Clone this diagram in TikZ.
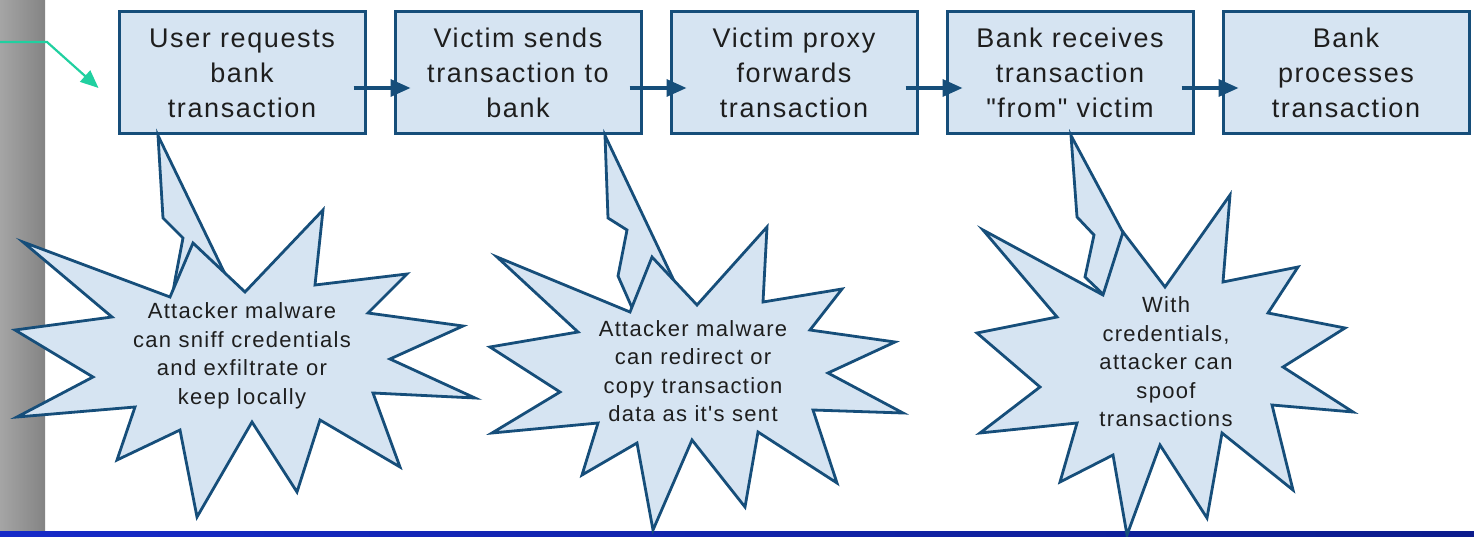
\documentclass[tikz,border=0pt]{standalone}
\usepackage{xcolor}
\usepackage{fontspec}
\usepackage{tikz}
\usetikzlibrary{arrows.meta}

\newfontfamily\boxfont[LetterSpace=6]{Liberation Sans}

\definecolor{edgeblue}{RGB}{22,78,122}
\definecolor{paleblue}{RGB}{214,228,242}
\definecolor{inkgray}{RGB}{30,30,30}
\definecolor{pinteal}{RGB}{32,208,160}
\definecolor{barlight}{RGB}{165,165,165}
\definecolor{bardark}{RGB}{132,132,132}
\definecolor{bandleft}{RGB}{22,42,200}
\definecolor{bandmid}{RGB}{14,52,255}
\definecolor{bandright}{RGB}{12,28,140}

\tikzset{
  stepbox/.style={draw=edgeblue,line width=3pt,fill=paleblue,rectangle,
    minimum width=246pt,minimum height=122pt,inner sep=0pt,align=center,
    text=inkgray,font=\boxfont\fontsize{27}{35}\selectfont},
  flow/.style={draw=edgeblue,line width=3.4pt,-{Triangle[length=20pt,width=17pt]},
    shorten <=-13pt,shorten >=-17pt},
  burst/.style={draw=edgeblue,line width=2.8pt,fill=paleblue,line join=miter},
  bursttext/.style={align=center,text=inkgray,inner sep=0pt,
    font=\boxfont\fontsize{22}{28.5}\selectfont},
  pointer/.style={draw=pinteal,line width=2.2pt,-{Triangle[length=18pt,width=15pt]}}
}

\begin{document}
\begin{tikzpicture}[x=1pt,y=-1pt]
\useasboundingbox (0,0) rectangle (1474,537);
\fill[white] (0,0) rectangle (1474,537);
\shade[left color=barlight,right color=bardark] (0,0) rectangle (45,531);
\shade[left color=bandleft,middle color=bandmid,right color=bandright] (0,531) rectangle (1474,537);

% the five steps
\node[stepbox] (req) at (242,73) {User requests\\bank\\transaction};
\node[stepbox] (send) at (518,73) {Victim sends\\transaction to\\bank};
\node[stepbox] (fwd) at (794,73) {Victim proxy\\forwards\\transaction};
\node[stepbox] (recv) at (1070,73) {Bank receives\\transaction\\"from" victim};
\node[stepbox] (proc) at (1346,73) {Bank\\processes\\transaction};

\draw[flow] ([yshift=-15pt]req.east) -- ([yshift=-15pt]send.west);
\draw[flow] ([yshift=-15pt]send.east) -- ([yshift=-15pt]fwd.west);
\draw[flow] ([yshift=-15pt]fwd.east) -- ([yshift=-15pt]recv.west);
\draw[flow] ([yshift=-15pt]recv.east) -- ([yshift=-15pt]proc.west);

\coordinate (pin) at (0,42);
\draw[pointer] (pin) -- ++(47,0) -- ([shift={(-19,15)}]req.west);

% callout tails
\filldraw[burst] ([xshift=-84pt]req.south) -- (163,218) -- (183,238) -- (175,280)
  -- (172,298) -- (226,276) -- cycle;
\filldraw[burst] ([xshift=87pt]send.south) -- (608,218) -- (627,230) -- (618,276)
  -- (633,310) -- (676,285) -- cycle;
\filldraw[burst] ([xshift=1pt]recv.south) -- (1077,217) -- (1094,235) -- (1085,277)
  -- (1106,297) -- (1127,240) -- cycle;

% the bursts
\filldraw[burst] (193,243) -- (245,292) -- (323,210) -- (315,285) -- (407,274)
  -- (368,313) -- (463,326) -- (390,359) -- (475,398) -- (373,393) -- (400,467)
  -- (320,420) -- (297,492) -- (252,422) -- (197,517) -- (180,430) -- (117,460)
  -- (135,407) -- (17,417) -- (93,377) -- (15,330) -- (112,317) -- (23,242)
  -- (170,297) -- cycle;
\filldraw[burst] (652,257) -- (697,305) -- (767,227) -- (763,302) -- (842,289)
  -- (810,330) -- (895,342) -- (828,373) -- (903,413) -- (813,410) -- (837,483)
  -- (758,432) -- (745,507) -- (692,440) -- (653,530) -- (637,443) -- (582,475)
  -- (598,423) -- (492,433) -- (560,392) -- (490,347) -- (578,332) -- (497,257)
  -- (630,312) -- cycle;
\filldraw[burst] (1123,232) -- (1165,287) -- (1230,195) -- (1223,282) -- (1298,267)
  -- (1268,313) -- (1345,328) -- (1283,367) -- (1353,412) -- (1272,405) -- (1293,490)
  -- (1222,433) -- (1207,518) -- (1160,445) -- (1127,535) -- (1113,455) -- (1060,482)
  -- (1077,423) -- (980,433) -- (1040,387) -- (977,333) -- (1057,317) -- (983,230)
  -- (1103,295) -- cycle;

\node[bursttext] (sniff) at (242,356) {Attacker malware\\can sniff credentials\\and exfiltrate or\\keep locally};
\node[bursttext] (redir) at (693,371) {Attacker malware\\can redirect or\\copy transaction\\data as it's sent};
\node[bursttext] (spoof) at (1166,362) {With\\credentials,\\attacker can\\spoof\\transactions};
\end{tikzpicture}
\end{document}
